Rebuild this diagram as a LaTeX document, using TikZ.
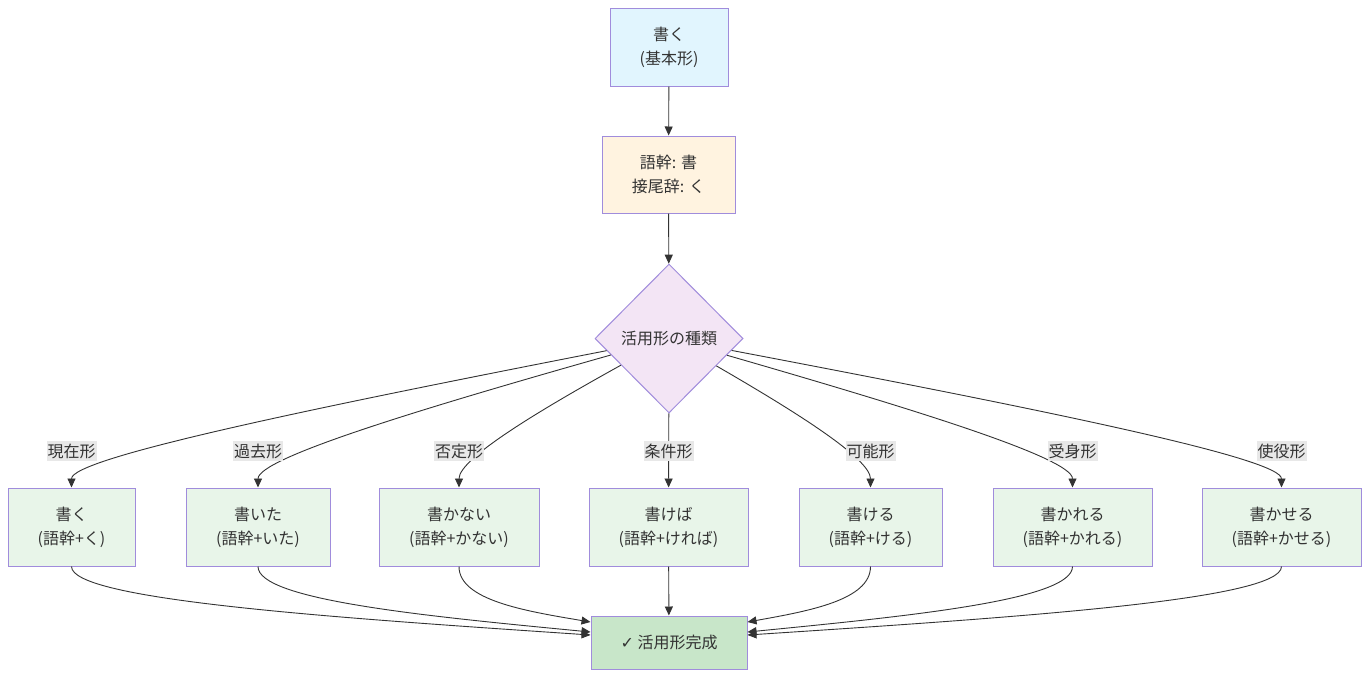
\documentclass[tikz,border=0pt]{standalone}
\usepackage{fontspec}
\setmainfont{Noto Sans CJK JP}
\newfontfamily\symfont{DejaVu Sans}
\usetikzlibrary{shapes.geometric,arrows.meta,calc}

\definecolor{edgegray}{HTML}{333333}
\definecolor{boxline}{HTML}{A08CDC}
\definecolor{basefill}{HTML}{E1F5FE}
\definecolor{stemfill}{HTML}{FFF3E0}
\definecolor{kindfill}{HTML}{F3E5F5}
\definecolor{formfill}{HTML}{E8F5E9}
\definecolor{donefill}{HTML}{C8E6C9}
\definecolor{tagfill}{HTML}{E8E8E8}

\begin{document}
\begin{tikzpicture}[x=1pt,y=-1pt,->,>={Triangle[length=9pt,width=8pt]},draw=edgegray,line width=0.9pt]
    \tikzstyle{box}=[rectangle,draw=boxline,line width=1pt,text=edgegray,align=center,inner sep=0pt,font=\fontsize{16}{24}\selectfont]
    \tikzstyle{form}=[box,fill=formfill,minimum height=78pt]
    \tikzstyle{tag}=[fill=tagfill,text=edgegray,inner xsep=1pt,inner ysep=2.5pt,font=\fontsize{16}{18}\selectfont]

    \useasboundingbox (0,0) rectangle (1370,678);

    % Draw the dictionary form, its split and the branching point
    \node[box,fill=basefill,minimum width=118pt,minimum height=78pt] (base) at (669,47) {書く\\(基本形)};
    \node[box,fill=stemfill,minimum width=133pt,minimum height=77pt] (stem) at (668.5,174.5) {語幹: 書\\接尾辞: く};
    \node[box,diamond,fill=kindfill,minimum width=148pt,minimum height=149pt] (kind) at (669,338.5) {活用形の種類};

    % Draw the row of conjugated forms
    \foreach \n/\x/\w/\txt in {1/71.5/127/{書く\\(語幹+く)},
                               2/258/144/{書いた\\(語幹+いた)},
                               3/459/160/{書かない\\(語幹+かない)},
                               4/668.5/159/{書けば\\(語幹+ければ)},
                               5/870.5/143/{書ける\\(語幹+ける)},
                               6/1072.5/159/{書かれる\\(語幹+かれる)},
                               7/1281.5/159/{書かせる\\(語幹+かせる)}}
        \node[form,minimum width=\w pt] (F-\n) at (\x,527) {\txt};

    % Draw the final node
    \node[box,fill=donefill,minimum width=156pt,minimum height=53pt] (done) at (669,642.5) {{\symfont ✓} 活用形完成};

    % Points where the curved edges enter the final node
    \foreach \n/\dy in {1/-7.5,2/-10.5,3/-20.5}
        \coordinate (in-\n) at ($(done.west)+(0,\dy)$);
    \foreach \n/\dy in {5/-20.5,6/-10.5,7/-7.5}
        \coordinate (in-\n) at ($(done.east)+(0,\dy)$);

    % Connect the top of the chain
    \draw (base) -- (stem);
    \draw (stem) -- (kind);
    \draw (kind) -- (F-4);
    \draw (F-4) -- (done);

    % Connect the branching point with every form
    \foreach \n/\x in {1/71.5,2/258,3/459,5/870.5,6/1072.5,7/1281.5}
        \draw (kind) .. controls ($(kind)!0.6!(\x,455)$) and (\x,458) .. (F-\n);

    % Connect every form with the final node
    \foreach \n/\x in {1/71.5,2/258,3/459,5/870.5,6/1072.5,7/1281.5}
        \draw (F-\n) .. controls (\x,600) and ($(\x,600)!0.5!(in-\n)$) .. (in-\n);

    % Annotate the branches
    \foreach \n/\x/\lab in {1/71.5/現在形,2/258/過去形,3/459/否定形,4/668.5/条件形,
                            5/870.5/可能形,6/1072.5/受身形,7/1281.5/使役形}
        \node[tag] (L-\n) at (\x,451) {\lab};
\end{tikzpicture}
\end{document}
